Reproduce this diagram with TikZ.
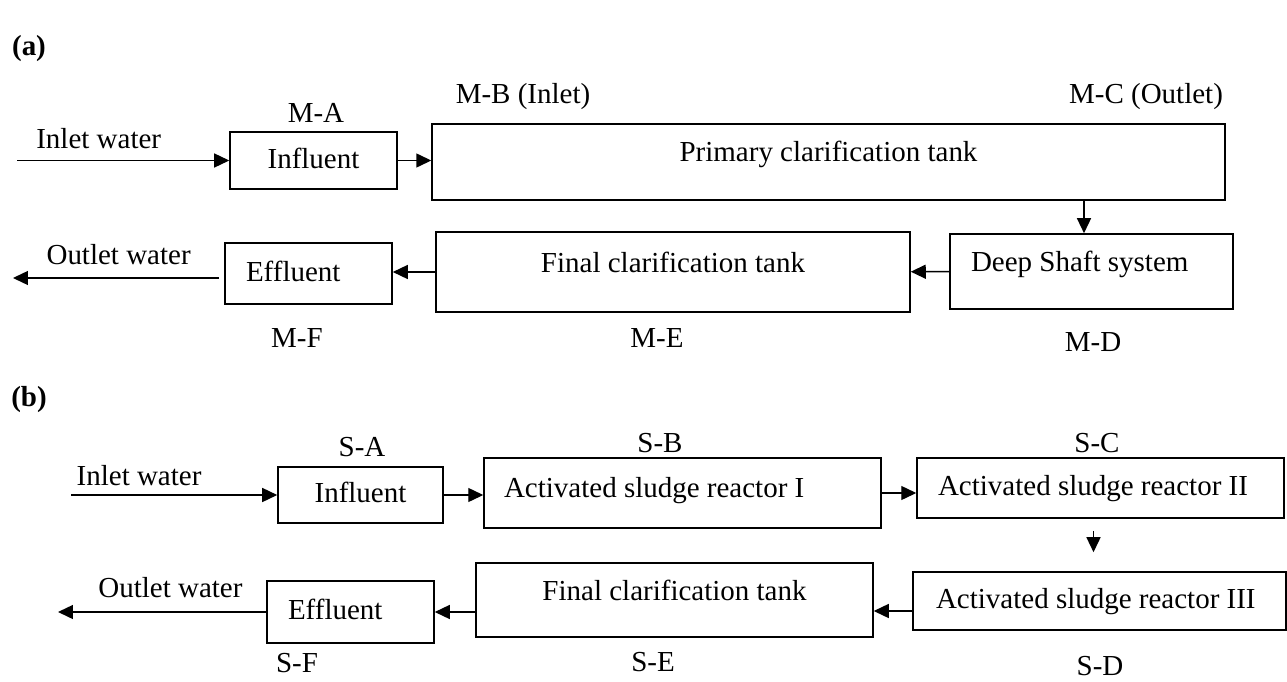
\documentclass[tikz,border=0pt]{standalone}
\usepackage{fontspec}
\setmainfont{Liberation Serif}
\usetikzlibrary{arrows.meta}
\begin{document}
\begin{tikzpicture}[x=0.02cm,y=-0.02cm,font=\fontsize{16.5}{19}\selectfont,
  box/.style={draw,line width=0.9pt,inner sep=0pt,align=center,text height=0.9em,text depth=0em},
  lbox/.style={box,align=flush left},
  mid/.style={text height=0.6em,text depth=0.6em},
  flow/.style={line width=0.8pt,-{Triangle[length=0.3cm,width=0.28cm]}},
  tag/.style={inner sep=0pt}]
  \useasboundingbox (0,0) rectangle (1287,682);
  \node[tag,font=\fontsize{16.5}{19}\selectfont\bfseries] (pa) at (29,49){(a)};
  \node[box,minimum width=3.34cm,minimum height=1.14cm] (ina) at (313.5,160.5){Influent};
  \node[box,mid,minimum width=15.86cm,minimum height=1.52cm] (pri) at (828.5,162){Primary clarification tank};
  \node[lbox,mid,minimum width=5.66cm,minimum height=1.5cm,text width=4.82cm] (dsh) at (1091.5,271.5){Deep Shaft system};
  \node[box,mid,minimum width=9.48cm,minimum height=1.6cm] (fca) at (673,272){Final clarification tank};
  \node[lbox,minimum width=3.34cm,minimum height=1.22cm,text width=2.5cm] (efa) at (308.5,273.5){Effluent};
  \node[tag] (ma) at (316,113){M-A};
  \node[tag] (mb) at (523,97){M-B (Inlet)};
  \node[tag] (mc) at (1146,97){M-C (Outlet)};
  \node[tag] (md) at (1093,342){M-D};
  \node[tag] (me) at (657,338){M-E};
  \node[tag] (mf) at (297,338){M-F};
  \coordinate (inA) at (17,160.5);
  \coordinate (outA) at (13,278);
  \draw[flow] (inA) -- node[pos=0.385,above=0.1cm] (twa){Inlet water} (ina);
  \draw[flow] (ina.east) -- (ina.east -| pri.west);
  \draw[flow] ([xshift=-0.15cm]dsh.north |- pri.south) -- ([xshift=-0.15cm]dsh.north);
  \draw[flow] (dsh) -- (fca);
  \draw[flow] (fca.west) -- (fca.west -| efa.east);
  \draw[flow,shorten <=0.1cm] (efa.west |- outA) -- node[pos=0.5,above=0.14cm] (twb){Outlet water} (outA);
  \node[tag,font=\fontsize{16.5}{19}\selectfont\bfseries] (pb) at (29,400){(b)};
  \node[box,minimum width=3.3cm,minimum height=1.12cm] (inb) at (360.5,495){Influent};
  \node[lbox,minimum width=7.94cm,minimum height=1.4cm,text width=7.14cm,text height=0.7em,text depth=0.2em] (asr1) at (682.5,493){Activated sludge reactor I};
  \node[lbox,minimum width=7.34cm,minimum height=1.2cm,text width=6.5cm] (asr2) at (1100.5,488){Activated sludge reactor II};
  \node[lbox,minimum width=7.46cm,minimum height=1.16cm,text width=6.54cm] (asr3) at (1099.5,601){Activated sludge reactor III};
  \node[box,mid,minimum width=7.94cm,minimum height=1.48cm] (fcb) at (674.5,600){Final clarification tank};
  \node[lbox,minimum width=3.34cm,minimum height=1.24cm,text width=2.5cm] (efb) at (350.5,612){Effluent};
  \node[tag] (sa) at (362,447){S-A};
  \node[tag] (sb) at (660,443){S-B};
  \node[tag] (sc) at (1097,443){S-C};
  \node[tag] (sd) at (1100,666){S-D};
  \node[tag] (se) at (653,662){S-E};
  \node[tag] (sf) at (297,663){S-F};
  \coordinate (inB) at (71,495);
  \coordinate (outB) at (58,612);
  \draw[flow] (inB) -- node[pos=0.33,above=0.05cm] (twc){Inlet water} (inb);
  \draw[flow] (inb.east) -- (inb.east -| asr1.west);
  \draw[flow] (asr1.east) -- (asr1.east -| asr2.west);
  \draw[flow,shorten <=0.24cm,shorten >=0.38cm] ([xshift=-0.14cm]asr2.south) -- ([xshift=-0.14cm]asr2.south |- asr3.north);
  \draw[flow] ([yshift=-0.2cm]asr3.west) -- ([yshift=-0.2cm]asr3.west -| fcb.east);
  \draw[flow] (efb.east -| fcb.west) -- (efb.east);
  \draw[flow] (efb) -- node[pos=0.46,above=0.15cm] (twd){Outlet water} (outB);
\end{tikzpicture}
\end{document}
